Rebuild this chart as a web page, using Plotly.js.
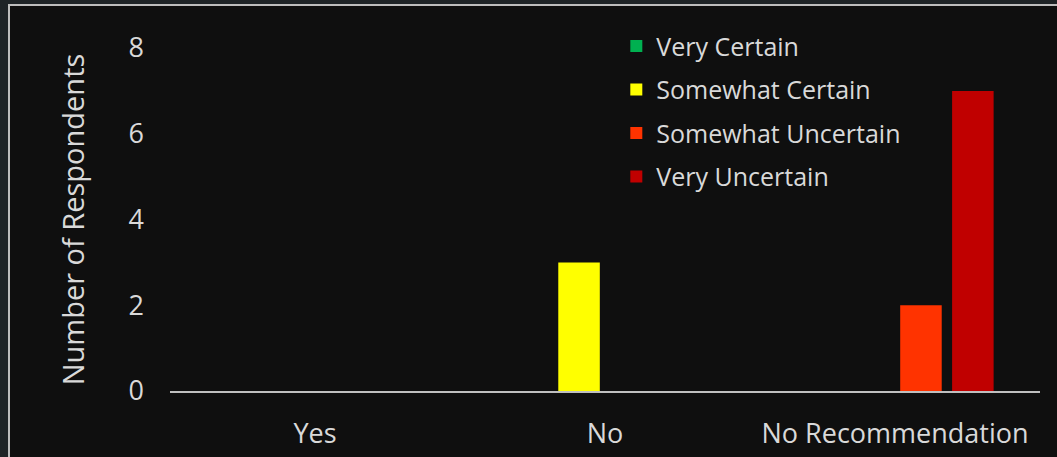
<!DOCTYPE html>
<html>
<head>
<meta charset="utf-8">
<script src="https://cdn.plot.ly/plotly-3.0.1.min.js"></script>
<style>
  html, body { margin: 0; padding: 0; background: #1e2326; width: 1057px; height: 457px; overflow: hidden; }
  #frame { position: absolute; left: 8px; top: 4px; width: 1049px; height: 453px; border-left: 2px solid #bdbdbd; border-top: 2px solid #bdbdbd; box-sizing: border-box; background: #0f0f0f; }
  #chart { position: absolute; left: 0; top: 0; width: 1047px; height: 451px; }
</style>
</head>
<body>
<div id="frame"><div id="chart"></div></div>
<script>
const categories = ["Yes", "No", "No Recommendation"];
const seriesNames = ["Very Certain", "Somewhat Certain", "Somewhat Uncertain", "Very Uncertain"];
const veryCertain = [0, 0, 0];
const somewhatCertain = [0, 3, 0];
const somewhatUncertain = [0, 0, 2];
const veryUncertain = [0, 0, 7];
const colors = ["#00b050", "#ffff00", "#ff3300", "#c00000"];
const yTicks = [0, 2, 4, 6, 8];

const values = [veryCertain, somewhatCertain, somewhatUncertain, veryUncertain];
const traces = values.map((v, i) => ({
  type: "bar",
  name: seriesNames[i],
  legendgroup: "g" + i,
  x: categories,
  y: v,
  marker: { color: colors[i] },
  hoverinfo: "x+y+name"
}));

const fontFam = "Open Sans, sans-serif";
const txt = "#d9d9d9";
const layout = {
  width: 1047,
  height: 451,
  paper_bgcolor: "#0f0f0f",
  plot_bgcolor: "#0f0f0f",
  margin: { l: 160, r: 17, t: 42, b: 66 },
  barmode: "group",
  bargap: 0.284,
  bargroupgap: 0.2,
  font: { family: fontFam, color: txt, size: 20 },
  xaxis: {
    type: "category",
    showline: true,
    linecolor: "#bfbfbf",
    linewidth: 2,
    showgrid: false,
    zeroline: false,
    ticks: "",
    ticklabelstandoff: 18,
    tickfont: { family: fontFam, size: 27, color: txt }
  },
  yaxis: {
    range: [0, 8],
    tickvals: yTicks,
    showgrid: false,
    zeroline: false,
    showline: false,
    ticks: "",
    ticklabelstandoff: 25,
    tickfont: { family: fontFam, size: 27, color: txt },
    title: { text: "Number of Respondents", font: { family: fontFam, size: 29, color: txt }, standoff: 35 }
  },
  legend: {
    x: 0.513, y: 1.072, xanchor: "left", yanchor: "top",
    bgcolor: "rgba(0,0,0,0)",
    font: { family: fontFam, size: 25, color: txt },
    traceorder: "grouped",
    tracegroupgap: 8,
    itemwidth: 30
  },
  showlegend: true
};

Plotly.newPlot("chart", traces, layout, { displayModeBar: false, staticPlot: true });
</script>
</body>
</html>
